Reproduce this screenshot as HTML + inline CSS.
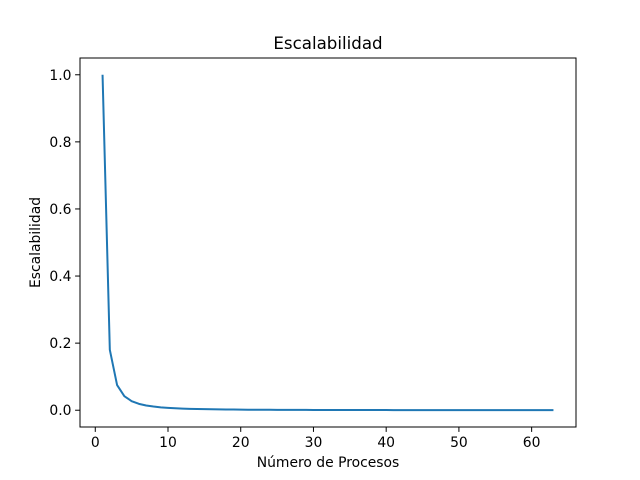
<!DOCTYPE html>
<html><head><meta charset="utf-8"><style>
body{margin:0;background:#fff;}
svg{display:block;font-family:"DejaVu Sans","Liberation Sans",sans-serif;}
</style></head><body>
<svg id="chart" width="640" height="480">
<rect x="0" y="0" width="640" height="480" fill="#fff"/>
<text x="328" y="49" font-size="16.67" text-anchor="middle">Escalabilidad</text>
<g id="xt"></g>
<g id="yt"></g>
<text x="328" y="467" font-size="13.9" text-anchor="middle">Número de Procesos</text>
<text transform="translate(40,242.5) rotate(-90)" font-size="13.9" text-anchor="middle">Escalabilidad</text>
<path id="line" fill="none" stroke="#1f77b4" stroke-width="2" stroke-linejoin="round"/>
<rect x="80" y="58" width="496" height="369" fill="none" stroke="#000" stroke-width="1"/>
</svg>
<script>
const procs = [1,2,3,4,5,6,7,8,9,10,11,12,13,14,15,16,17,18,19,20,21,22,23,24,25,26,27,28,29,30,31,32,33,34,35,36,37,38,39,40,41,42,43,44,45,46,47,48,49,50,51,52,53,54,55,56,57,58,59,60,61,62,63];
const scal = [1,0.18,0.075,0.042,0.027,0.019,0.014,0.011,0.0085,0.007,0.0058,0.0049,0.0042,0.0036,0.0032,0.0028,0.0025,0.0022,0.002,0.0018,0.0016,0.0015,0.0014,0.0013,0.0012,0.0011,0.001,0.00095,0.0009,0.00085,0.0008,0.00075,0.0007,0.00066,0.00063,0.0006,0.00057,0.00054,0.00052,0.0005,0.00048,0.00046,0.00044,0.00042,0.0004,0.00039,0.00038,0.00037,0.00036,0.00035,0.00034,0.00033,0.00032,0.00031,0.0003,0.00029,0.00028,0.00027,0.00026,0.00025,0.00024,0.00023,0.00022];
const xTicks = [0,10,20,30,40,50,60];
const yTicks = ["0.0","0.2","0.4","0.6","0.8","1.0"];
const X0=80,X1=576,Y0=58,Y1=427;
const xmin=-2.1,xmax=66.1,ymin=-0.05,ymax=1.05;
const sx=v=>X0+(v-xmin)/(xmax-xmin)*(X1-X0);
const sy=v=>Y1-(v-ymin)/(ymax-ymin)*(Y1-Y0);
const NS="http://www.w3.org/2000/svg";
const xt=document.getElementById('xt'), yt=document.getElementById('yt');
xTicks.forEach(t=>{
  const l=document.createElementNS(NS,'line');
  
  
  l.setAttribute('x1',sx(t));l.setAttribute('x2',sx(t));l.setAttribute('y1',Y1);l.setAttribute('y2',Y1+4.9);l.setAttribute('stroke','#000');l.setAttribute('stroke-width','1');
  xt.appendChild(l);
  const tx=document.createElementNS(NS,'text');
  
  
  tx.setAttribute('x',sx(t));tx.setAttribute('y',Y1+20);tx.setAttribute('font-size','13.9');tx.setAttribute('text-anchor','middle');
  tx.textContent=t;xt.appendChild(tx);
});
yTicks.forEach(t=>{
  const v=parseFloat(t);
  const l=document.createElementNS(NS,'line');
  
  
  l.setAttribute('x1',X0-4.9);l.setAttribute('x2',X0);l.setAttribute('y1',sy(v));l.setAttribute('y2',sy(v));l.setAttribute('stroke','#000');l.setAttribute('stroke-width','1');
  yt.appendChild(l);
  const tx=document.createElementNS(NS,'text');
  
  
  tx.setAttribute('x',X0-8.5);tx.setAttribute('y',sy(v)+5);tx.setAttribute('font-size','13.9');tx.setAttribute('text-anchor','end');
  tx.textContent=t;yt.appendChild(tx);
});
document.getElementById('line').setAttribute('d',procs.map((p,i)=>(i?'L':'M')+sx(p).toFixed(2)+','+sy(scal[i]).toFixed(2)).join(''));
</script>
</body></html>
